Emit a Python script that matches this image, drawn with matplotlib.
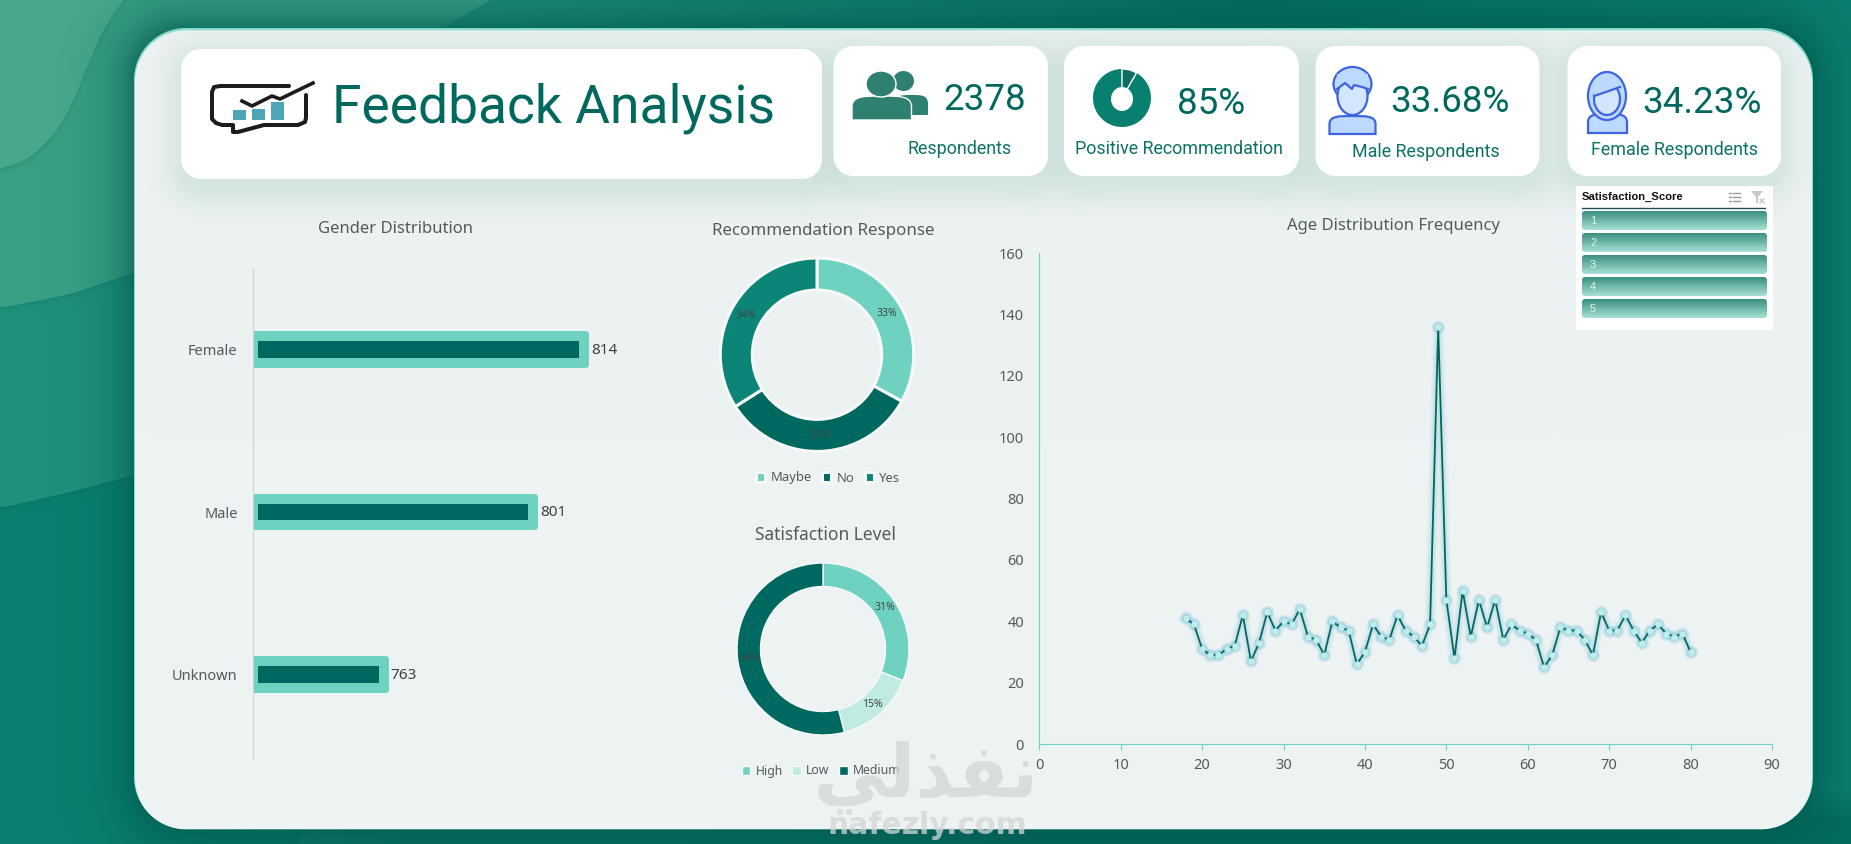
import numpy as np
import matplotlib
matplotlib.use("Agg")
import matplotlib.pyplot as plt
from matplotlib.patches import Ellipse, Wedge, Rectangle, PathPatch
from matplotlib.path import Path
from matplotlib.colors import to_rgb

W, H = 1851, 844

# chart values
gender_labels = ["Female", "Male", "Unknown"]
gender_counts = [814, 801, 763]

recommend_labels = ["Maybe", "No", "Yes"]
recommend_pct = [33, 33, 34]

satisfaction_labels = ["High", "Low", "Medium"]
satisfaction_pct = [31, 15, 54]

ages = [18, 19, 20, 21, 22, 23, 24, 25, 26, 27, 28, 29, 30, 31, 32, 33, 34, 35, 36, 37, 38,
        39, 40, 41, 42, 43, 44, 45, 46, 47, 48, 49, 50, 51, 52, 53, 54, 55, 56, 57, 58, 59,
        60, 61, 62, 63, 64, 65, 66, 67, 68, 69, 70, 71, 72, 73, 74, 75, 76, 77, 78, 79, 80]
age_counts = [41, 39, 31, 29, 29, 31, 32, 42, 27, 33, 43, 37, 40, 39, 44, 35, 34, 29, 40, 38, 37,
              26, 30, 39, 35, 34, 42, 37, 35, 32, 39, 136, 47, 28, 50, 35, 47, 38, 47, 34, 39, 37,
              36, 34, 25, 29, 38, 37, 37, 34, 29, 43, 37, 37, 42, 37, 33, 37, 39, 36, 35, 36, 30]
x_ticks = [0, 10, 20, 30, 40, 50, 60, 70, 80, 90]
y_ticks = [0, 20, 40, 60, 80, 100, 120, 140, 160]

slicer_items = ["1", "2", "3", "4", "5"]

LIGHT = "#6fd2c0"
PALE = "#c0ebe3"
DARK = "#00695f"
MID = "#0b8575"
GREY = "#595959"
FONT = "Noto Sans"
KPI_FONT = "Roboto"

plt.rcParams["font.family"] = [FONT, "DejaVu Sans"]


def rgb(c):
    return np.array(to_rgb(c))


def rounded(X, Y, x0, y0, x1, y1, r):
    # signed distance to a rounded box
    qx = np.abs(X - (x0 + x1) / 2) - ((x1 - x0) / 2 - r)
    qy = np.abs(Y - (y0 + y1) / 2) - ((y1 - y0) / 2 - r)
    return np.hypot(np.maximum(qx, 0), np.maximum(qy, 0)) + np.minimum(np.maximum(qx, qy), 0) - r


def paint(img, mask, color):
    m = np.clip(mask, 0, 1)[..., None]
    return img * (1 - m) + color * m


def smooth_curve(X, xs, ys, k=25):
    # rounded version of a hand read outline
    grid = np.arange(-200, W + 200)
    line = np.interp(grid, xs, ys)
    line = np.convolve(line, np.ones(k) / k, mode="same")
    return np.interp(X, grid, line)


def make_backdrop():
    X, Y = np.meshgrid(np.arange(W) + 0.5, np.arange(H) + 0.5)
    img = np.zeros((H, W, 3))
    img[:] = rgb("#098170")

    # wavy layers in the corner, each with a soft dark edge under it
    layers = [
        ([0, 67, 134, 1851], [508, 493, 475, 400], "#1f927c"),
        ([0, 67, 134, 1851], [308, 295, 273, 200], "#3ba186"),
        ([-40, 0, 27, 50, 68, 82, 97, 110, 125, 150], [175, 169, 160, 140, 115, 80, 43, 17, 0, -40],
         "#4aa98d"),
    ]
    for xs, ys, col in layers:
        curve = smooth_curve(X, xs, ys)
        below = Y - curve
        img = paint(img, np.exp(-np.maximum(below, 0) / 4) * 0.22 * (below > 0), rgb("#0b5f52"))
        img[below <= 0] = rgb(col)

    # right part of the top, past the small wave
    right = X > np.interp(Y, [0, 28, 844], [490, 443, 300])
    for c in range(3):
        chan = np.interp(X, [443, 1250, 1851],
                         [rgb("#22907a")[c], rgb("#056f62")[c], rgb("#0a8070")[c]])
        img[..., c][right] = chan[right]

    # bottom strip goes darker
    bottom = np.clip((Y - 790) / 30, 0, 1) * np.clip((X - 100) / 300, 0, 1)
    img = paint(img, bottom * 0.75, rgb("#02665b"))

    # shadow of the panel on the backdrop
    d = rounded(X, Y, 134, 28, 1812, 829, 52)
    img = paint(img, np.exp(-np.maximum(d, 0) / 26) * 0.62, rgb("#00584e"))

    # panel with thin light rim
    img = paint(img, 0.5 - d, rgb("#84dcc9"))
    inner = rounded(X, Y - 0.8, 135, 29.5, 1811, 828.5, 51)
    img = paint(img, 0.5 - inner, rgb("#edf3f2"))

    cards = [(181, 49, 822, 179, 20), (833.5, 46, 1047, 176, 20), (1063, 46, 1298, 176, 20),
             (1314.5, 46, 1538.5, 176, 20), (1566.5, 46, 1780, 176, 20)]
    for c in cards:
        s = rounded(X, Y - 9, c[0] + 2, c[1], c[2] - 2, c[3], c[4])
        shade = np.exp(-(np.maximum(s, 0) / 20) ** 1.4) * 0.3 * (inner < 0)
        img = paint(img, shade, rgb("#9fc6bf"))
    for c in cards:
        img = paint(img, 0.5 - rounded(X, Y, *c), rgb("#ffffff"))

    # slicer
    img = paint(img, 0.5 - rounded(X, Y, 1575, 186, 1772, 330, 0.1), rgb("#ffffff"))
    for top_y in [211, 233, 255, 277, 299]:
        mask = 0.5 - rounded(X, Y, 1581, top_y, 1766, top_y + 19, 3)
        t = np.clip((Y - top_y) / 19, 0, 1)[..., None]
        grad = rgb("#3a8e7f") * (1 - t) + rgb("#a8e2d6") * t
        m = np.clip(mask, 0, 1)[..., None]
        img = img * (1 - m) + grad * m
    return np.clip(img, 0, 1)


def px_axes(fig, x0, y0, x1, y1):
    ax = fig.add_axes([x0 / W, 1 - y1 / H, (x1 - x0) / W, (y1 - y0) / H])
    ax.patch.set_visible(False)
    return ax


def dome(ax, x0, x1, yt, yb, **kw):
    w = x1 - x0
    ym = yt + 0.45 * (yb - yt)
    xc = (x0 + x1) / 2
    verts = [(x0, yb), (x0, ym), (x0, yt), (x0 + 0.2 * w, yt), (xc, yt),
             (x1 - 0.2 * w, yt), (x1, yt), (x1, ym), (x1, yb), (x0, yb)]
    codes = [Path.MOVETO, Path.LINETO, Path.CURVE4, Path.CURVE4, Path.CURVE4,
             Path.CURVE4, Path.CURVE4, Path.CURVE4, Path.LINETO, Path.CLOSEPOLY]
    ax.add_patch(PathPatch(Path(verts, codes), **kw))


def draw_icons(ax):
    # logo
    ax.plot([289, 220, 214, 212, 212, 216, 222, 233, 233, 238, 264, 298, 305, 306, 306],
            [86, 86, 87, 92, 119, 123, 125, 125, 132, 132, 125, 125, 122, 118, 95],
            color="#1c1c1c", lw=2.9, solid_capstyle="round", solid_joinstyle="round")
    for x0, x1, y0 in [(233, 246, 110), (252, 265, 109), (271, 284, 102)]:
        ax.add_patch(Rectangle((x0, y0), x1 - x0, 120 - y0, fc="#4fa5b8", ec="none"))
    ax.plot([242, 252, 272, 280, 313], [101, 106, 96, 99, 83], color="#1c1c1c", lw=2.6)

    # respondents
    people = "#2e8070"
    ax.add_patch(Ellipse((903.5, 81), 21, 20, fc=people, ec="none"))
    dome(ax, 895, 928, 95, 115, fc=people, ec="none")
    dome(ax, 852, 911.5, 96, 120, fc=people, ec="white", lw=1)
    ax.add_patch(Ellipse((881, 84), 30, 26, fc=people, ec="white", lw=1))

    # pie
    ax.add_patch(Wedge((1122, 98), 29, -60, 270, fc="#078070", ec="none"))
    ax.add_patch(Wedge((1122, 98), 29, -90, -60, fc="#0e6e62", ec="white", lw=1))
    ax.add_patch(Ellipse((1122, 99), 22, 24, fc="white", ec="none"))

    # male and female outline figures
    line = "#3f64e0"
    fill = "#bcd9ff"
    face = "#d4e6ff"
    dome(ax, 1329.5, 1375.5, 116, 134, fc=fill, ec=line, lw=1.6)
    ax.add_patch(Ellipse((1352.5, 84), 38, 34, fc=fill, ec=line, lw=1.6))
    ax.add_patch(Ellipse((1352.5, 96), 30, 38, fc=face, ec=line, lw=1.6))
    ax.fill([1337, 1345, 1352, 1354, 1362, 1368, 1368, 1337],
            [89, 83, 89, 85, 87, 89, 74, 74], color=fill, ec="none")
    ax.plot([1337, 1345, 1352, 1354, 1362, 1368], [89, 83, 89, 85, 87, 89], color=line, lw=1.6)

    dome(ax, 1588, 1627, 114, 133, fc=fill, ec=line, lw=1.6)
    ax.add_patch(Ellipse((1607, 96), 38, 48, fc=fill, ec=line, lw=1.6))
    ax.add_patch(Ellipse((1607, 99), 26, 32, fc=face, ec=line, lw=1.6))
    ax.fill([1594, 1606, 1620, 1620, 1594], [96, 92, 87, 80, 80], color=fill, ec="none")
    ax.plot([1594, 1606, 1620], [96, 92, 87], color=line, lw=1.6)

    # slicer toolbar
    for yy in [193, 197, 201]:
        ax.plot([1733, 1740], [yy, yy], color="#9a9a9a", lw=1)
        ax.plot([1729, 1731], [yy, yy], color="#9a9a9a", lw=1)
    ax.fill([1751, 1763, 1758, 1758, 1756, 1756], [191, 191, 197, 203, 203, 197],
            color="#c9c9c9", ec="none")
    ax.plot([1760, 1764], [199, 203], color="#c9c9c9", lw=1)
    ax.plot([1764, 1760], [199, 203], color="#c9c9c9", lw=1)


fig = plt.figure(figsize=(W / 100, H / 100), dpi=100)

base = fig.add_axes([0, 0, 1, 1])
base.imshow(make_backdrop(), extent=(0, W, H, 0), aspect="auto", interpolation="nearest")
base.set_xlim(0, W)
base.set_ylim(H, 0)
base.axis("off")
draw_icons(base)

base.text(554, 123, "Feedback Analysis", fontsize=38.4, color=DARK, ha="center", va="baseline",
          family=KPI_FONT)

kpis = [(984.5, 110, "2378"), (1211, 114, "85%"), (1450, 111.5, "33.68%"), (1702, 113, "34.23%")]
for x, y, s in kpis:
    base.text(x, y, s, fontsize=26.5, color=DARK, ha="center", va="baseline", family=KPI_FONT)
kpi_names = [(959.6, 149, "Respondents"), (1179, 149, "Positive Recommendation"),
             (1426, 152, "Male Respondents"), (1674, 150, "Female Respondents")]
for x, y, s in kpi_names:
    base.text(x, y, s, fontsize=12.9, color="#0b7265", ha="center", va="center", family=KPI_FONT)

# slicer text
base.text(1582, 197, "Satisfaction_Score", fontsize=8.1, weight="bold", color="#111111",
          family="Liberation Sans", va="center")
base.plot([1582, 1765], [207.5, 207.5], color="#1d4d52", lw=1)
for item, top_y in zip(slicer_items, [211, 233, 255, 277, 299]):
    base.text(1590, top_y + 9.5, item, fontsize=8, color="#dff3ee", family="Liberation Sans",
              va="center")

# chart titles
titles = [(395.5, 229, "Gender Distribution", 12), (823, 231, "Recommendation Response", 12.2),
          (825, 535.5, "Satisfaction Level", 12.5), (1393, 225.5, "Age Distribution Frequency", 12)]
for x, y, s, size in titles:
    base.text(x, y, s, fontsize=size, color=GREY, ha="center", va="center")

# gender bars
ax = px_axes(fig, 253, 268, 640, 759)
unit = 3.94  # px per count
x_min = 728.6
band = 162.75
ax.set_xlim(x_min, x_min + 387 / unit)
ax.set_ylim(2.5 + 3 / band, -0.5)
pos = np.arange(len(gender_labels))
values = np.array(gender_counts)
ax.barh(pos, values - x_min - 3 / unit, left=x_min, height=31 / band, color=LIGHT, edgecolor=LIGHT,
        linewidth=4.3, joinstyle="round")
ax.barh(pos, values - x_min - 14.5 / unit, left=x_min + 4.5 / unit, height=17 / band, color=DARK)
for p, v in zip(pos, gender_counts):
    ax.text(v + 1.5 / unit, p + 0.005, str(v), fontsize=11, color="#404040", va="center")
ax.set_yticks(pos)
ax.set_yticklabels(gender_labels, fontsize=10.5, color=GREY)
ax.tick_params(axis="y", length=0, pad=11)
for lab in ax.get_yticklabels():
    lab.set_y(lab.get_position()[1])
ax.set_xticks([])
for side in ["top", "right", "bottom"]:
    ax.spines[side].set_visible(False)
ax.spines["left"].set_color("#cdd3d3")


def donut(cx, cy, outer, inner, values, labels, colors, sep, legend_at, legend_size):
    span = 1.06
    r = outer * span
    ax = px_axes(fig, cx - r, cy - r, cx + r, cy + r)
    wedges, _, pct = ax.pie(values, colors=colors, startangle=90, counterclock=False, radius=1,
                            autopct=lambda p: f"{p:.0f}%", pctdistance=(1 + inner / outer) / 2,
                            wedgeprops=dict(width=1 - inner / outer, edgecolor="#f6f9f8",
                                            linewidth=sep))
    for t in pct:
        t.set_fontsize(7.5)
        t.set_color("#3a4a4a")
    ax.set_xlim(-span, span)
    ax.set_ylim(-span, span)
    ax.legend(wedges, labels, ncol=3, loc="center", frameon=False,
              bbox_to_anchor=(legend_at[0] / W, 1 - legend_at[1] / H), bbox_transform=fig.transFigure,
              fontsize=legend_size, handlelength=0.7, handleheight=0.7, handletextpad=0.4,
              columnspacing=0.8, labelcolor=GREY, borderpad=0)


donut(817, 354.7, 96.7, 64.7, recommend_pct, recommend_labels, [LIGHT, DARK, MID], 2.2,
      (828, 478), 9.4)
donut(823, 649, 86, 62.5, satisfaction_pct, satisfaction_labels, [LIGHT, PALE, DARK], 1.0,
      (821, 771), 8.8)

# age line
ax = px_axes(fig, 1039.3, 253.3, 1772, 744)
ax.set_xlim(0, 90)
ax.set_ylim(0, 160)
for lw, a in [(9, 0.05), (7, 0.07), (5, 0.1), (3.5, 0.14)]:
    ax.plot(ages, age_counts, color="#7cc3dc", lw=lw, alpha=a, solid_joinstyle="round")
for ms, a in [(9.5, 0.2), (7.5, 0.3)]:
    ax.plot(ages, age_counts, ls="none", marker="o", ms=ms, mfc="#7cc3dc", mec="none", alpha=a)
ax.plot(ages, age_counts, color=DARK, lw=1.3)
ax.plot(ages, age_counts, ls="none", marker="o", ms=4.6, mfc="#bdeeea", mec="none")
ax.set_xticks(x_ticks)
ax.set_yticks(y_ticks)
ax.tick_params(axis="x", length=4, color=LIGHT, labelsize=10.5, labelcolor=GREY, pad=6)
ax.tick_params(axis="y", length=0, labelsize=10.5, labelcolor=GREY, pad=11)
for side in ["top", "right"]:
    ax.spines[side].set_visible(False)
ax.spines["left"].set_color(LIGHT)
ax.spines["bottom"].set_color(LIGHT)

# watermark
top = fig.add_axes([0, 0, 1, 1])
top.patch.set_visible(False)
top.set_xlim(0, W)
top.set_ylim(H, 0)
top.axis("off")
top.text(926, 778, "\ufef2\ufedf\ufeac\ufed4\ufee7", fontsize=53, weight="bold", family="DejaVu Sans",
         color="#d4d6d6", alpha=0.75, ha="center", va="center")
top.text(927, 826, "nafezly.com", fontsize=21.5, weight="bold", family="DejaVu Sans",
         color="#d4d6d6", alpha=0.75, ha="center", va="center")

fig.savefig("out.png", dpi=100)
